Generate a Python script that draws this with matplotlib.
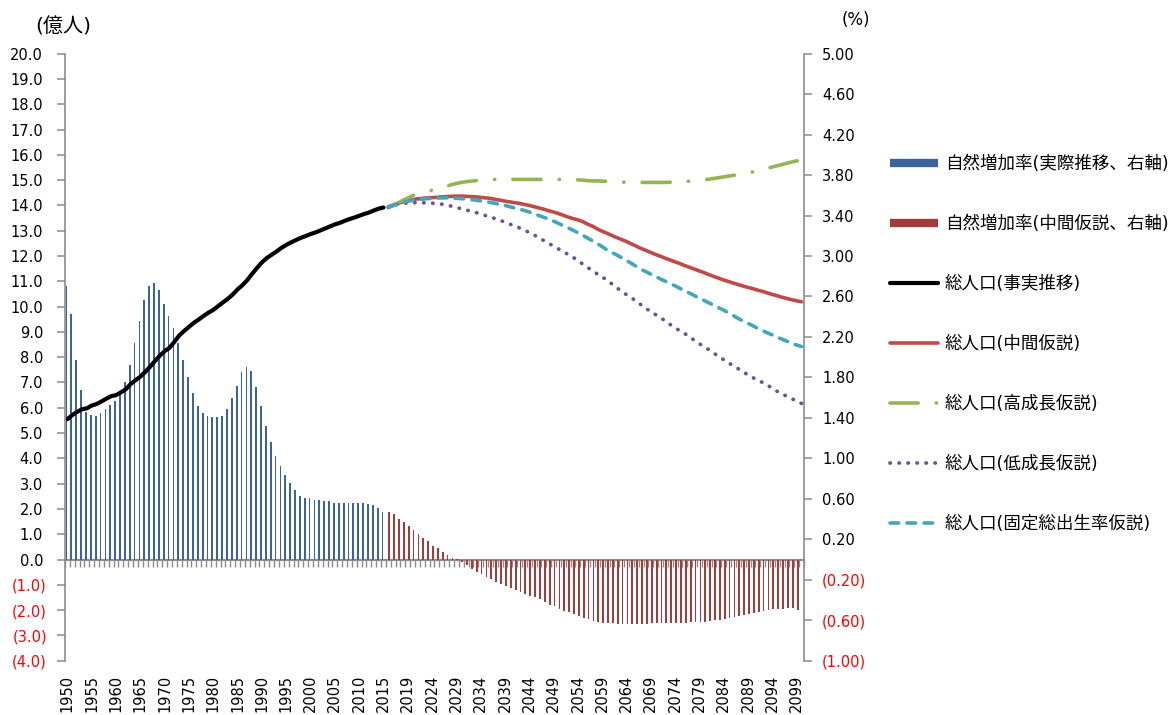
import numpy as np
import matplotlib
matplotlib.use("Agg")
import matplotlib.pyplot as plt
import matplotlib.transforms as mtransforms
from matplotlib.lines import Line2D

plt.rcParams["font.family"] = ["DejaVu Sans", "Noto Sans CJK JP"]

# ---- categories: observed years, then projection years (2015 appears in both)
years_actual = [str(y) for y in range(1950, 2016)]
years_projected = [str(y) for y in range(2015, 2101)]
categories = years_actual + years_projected

# ---- natural increase rate (%), right axis
rate_actual = [
    2.70, 2.43, 1.97, 1.68, 1.46, 1.43, 1.42, 1.45, 1.49, 1.53,
    1.57, 1.63, 1.75, 1.92, 2.14, 2.36, 2.57, 2.70, 2.73, 2.66,
    2.53, 2.41, 2.29, 2.14, 1.97, 1.80, 1.65, 1.52, 1.45, 1.42,
    1.41, 1.41, 1.42, 1.49, 1.60, 1.72, 1.85, 1.90, 1.86, 1.71,
    1.52, 1.32, 1.16, 1.02, 0.92, 0.84, 0.76, 0.69, 0.63, 0.61,
    0.61, 0.59, 0.59, 0.58, 0.58, 0.56, 0.56, 0.56, 0.56, 0.56,
    0.56, 0.56, 0.55, 0.54, 0.51, 0.47,
]
rate_medium = [
    0.471, 0.448, 0.405, 0.375, 0.336, 0.293, 0.254, 0.208, 0.181, 0.138,
    0.112, 0.072, 0.043, 0.016, 0.003, -0.026, -0.053, -0.092, -0.122, -0.145,
    -0.175, -0.194, -0.221, -0.240, -0.264, -0.283, -0.303, -0.316, -0.339, -0.356,
    -0.372, -0.392, -0.415, -0.445, -0.461, -0.487, -0.504, -0.520, -0.540, -0.560,
    -0.576, -0.586, -0.603, -0.616, -0.629, -0.629, -0.632, -0.642, -0.642, -0.642,
    -0.642, -0.642, -0.642, -0.642, -0.632, -0.632, -0.632, -0.632, -0.629, -0.629,
    -0.629, -0.626, -0.619, -0.619, -0.619, -0.613, -0.606, -0.599, -0.593, -0.586,
    -0.576, -0.567, -0.557, -0.547, -0.534, -0.524, -0.514, -0.504, -0.497, -0.491,
    -0.487, -0.487, -0.484, -0.481, -0.494,
]

# ---- total population (100 million), left axis
pop_actual = [
    5.55, 5.71, 5.84, 5.94, 5.98, 6.09, 6.15, 6.25, 6.36, 6.46,
    6.50, 6.61, 6.73, 6.94, 7.09, 7.23, 7.42, 7.62, 7.85, 8.06,
    8.24, 8.37, 8.61, 8.86, 9.04, 9.20, 9.36, 9.49, 9.63, 9.76,
    9.87, 10.02, 10.17, 10.31, 10.48, 10.68, 10.85, 11.05, 11.30, 11.53,
    11.75, 11.92, 12.05, 12.18, 12.32, 12.44, 12.54, 12.63, 12.72, 12.79,
    12.87, 12.93, 13.01, 13.09, 13.17, 13.25, 13.31, 13.39, 13.46, 13.52,
    13.59, 13.66, 13.72, 13.80, 13.87, 13.92,
]
pop_medium = [
    13.95, 14.02, 14.08, 14.14, 14.19, 14.23, 14.26, 14.28, 14.30, 14.31,
    14.32, 14.34, 14.35, 14.36, 14.37, 14.37, 14.36, 14.35, 14.34, 14.32,
    14.30, 14.28, 14.24, 14.21, 14.17, 14.14, 14.11, 14.08, 14.04, 14.00,
    13.95, 13.90, 13.85, 13.79, 13.74, 13.68, 13.61, 13.54, 13.48, 13.43,
    13.36, 13.26, 13.18, 13.07, 12.98, 12.90, 12.81, 12.73, 12.65, 12.57,
    12.48, 12.39, 12.30, 12.22, 12.14, 12.06, 11.99, 11.91, 11.84, 11.77,
    11.70, 11.62, 11.55, 11.48, 11.41, 11.34, 11.26, 11.19, 11.12, 11.05,
    10.99, 10.93, 10.87, 10.81, 10.76, 10.71, 10.65, 10.60, 10.54, 10.48,
    10.43, 10.37, 10.32, 10.27, 10.23, 10.19,
]
pop_high = [
    13.92, 14.01, 14.10, 14.20, 14.29, 14.39, 14.45, 14.51, 14.56, 14.60,
    14.65, 14.71, 14.76, 14.82, 14.87, 14.91, 14.94, 14.96, 14.98, 15.00,
    15.01, 15.02, 15.03, 15.03, 15.03, 15.03, 15.03, 15.03, 15.03, 15.03,
    15.03, 15.03, 15.03, 15.03, 15.03, 15.03, 15.03, 15.03, 15.02, 15.01,
    15.00, 14.98, 14.97, 14.97, 14.96, 14.95, 14.94, 14.93, 14.92, 14.92,
    14.91, 14.91, 14.91, 14.91, 14.91, 14.91, 14.91, 14.91, 14.92, 14.93,
    14.94, 14.95, 14.96, 14.97, 14.99, 15.01, 15.04, 15.07, 15.10, 15.13,
    15.16, 15.19, 15.22, 15.25, 15.29, 15.33, 15.38, 15.42, 15.47, 15.52,
    15.57, 15.62, 15.67, 15.72, 15.76, 15.80,
]
pop_low = [
    13.92, 14.00, 14.05, 14.08, 14.10, 14.11, 14.11, 14.11, 14.10, 14.09,
    14.07, 14.05, 14.02, 13.97, 13.92, 13.87, 13.82, 13.77, 13.72, 13.67,
    13.60, 13.54, 13.48, 13.41, 13.34, 13.26, 13.19, 13.11, 13.02, 12.93,
    12.83, 12.72, 12.61, 12.50, 12.39, 12.28, 12.17, 12.06, 11.95, 11.82,
    11.68, 11.55, 11.41, 11.29, 11.16, 11.06, 10.89, 10.74, 10.61, 10.47,
    10.35, 10.22, 10.07, 9.93, 9.80, 9.68, 9.56, 9.43, 9.29, 9.16,
    9.04, 8.93, 8.80, 8.66, 8.53, 8.41, 8.29, 8.15, 8.03, 7.90,
    7.77, 7.66, 7.54, 7.42, 7.30, 7.19, 7.09, 7.00, 6.89, 6.77,
    6.65, 6.55, 6.45, 6.36, 6.26, 6.17,
]
pop_fixed = [
    13.92, 13.99, 14.06, 14.12, 14.17, 14.20, 14.23, 14.25, 14.27, 14.28,
    14.29, 14.30, 14.30, 14.29, 14.28, 14.27, 14.25, 14.23, 14.21, 14.18,
    14.15, 14.12, 14.08, 14.04, 14.00, 13.95, 13.90, 13.85, 13.80, 13.74,
    13.67, 13.60, 13.53, 13.46, 13.38, 13.29, 13.20, 13.11, 13.02, 12.92,
    12.82, 12.71, 12.60, 12.49, 12.37, 12.24, 12.14, 12.04, 11.93, 11.82,
    11.71, 11.59, 11.47, 11.38, 11.28, 11.19, 11.09, 11.00, 10.91, 10.82,
    10.72, 10.62, 10.53, 10.43, 10.33, 10.24, 10.14, 10.05, 9.95, 9.86,
    9.75, 9.64, 9.53, 9.43, 9.34, 9.24, 9.14, 9.05, 8.96, 8.88,
    8.79, 8.71, 8.63, 8.55, 8.48, 8.42,
]

series_labels = [
    "自然増加率(実際推移、右軸)",
    "自然増加率(中間仮説、右軸)",
    "総人口(事実推移)",
    "総人口(中間仮説)",
    "総人口(高成長仮説)",
    "総人口(低成長仮説)",
    "総人口(固定総出生率仮説)",
]

left_ticks = list(range(-4, 21))
right_ticks = [-1.0, -0.6, -0.2, 0.2, 0.6, 1.0, 1.4, 1.8, 2.2, 2.6, 3.0, 3.4, 3.8, 4.2, 4.6, 5.0]


def paren_fmt(v, nd):
    return f"({abs(v):.{nd}f})" if v < 0 else f"{v:.{nd}f}"


C_BAR_BLUE = "#3B63A0"
C_BAR_RED = "#A23B39"
C_RED = "#BE4B48"
C_GREEN = "#93B653"
C_PURPLE = "#6E5296"
C_TEAL = "#42A5C2"
C_AXIS = "#8C8C8C"
C_NEG = "#FF0000"
TICK_FS = 10.5

W, H = 1173, 715
fig = plt.figure(figsize=(W / 100, H / 100), dpi=100)
ax = fig.add_axes([65 / W, 54.3 / H, 739 / W, 607 / H])   # rates (right scale)
ax2 = ax.twinx()                                        # population (left scale)

n_cat = len(categories)
x_act = np.arange(len(years_actual))
x_proj = np.arange(len(years_actual), n_cat)

ax.set_xlim(-0.5, n_cat - 0.5)
ax.set_ylim(-1.0, 5.0)
ax2.set_ylim(-4.0, 20.0)

# clustered columns: observed on the left half, projected on the right half
ax.bar(x_act - 0.19, rate_actual, width=0.36, color=C_BAR_BLUE, linewidth=0)
ax.bar(x_proj[:len(rate_medium)] + 0.19, rate_medium, width=0.36, color=C_BAR_RED, linewidth=0)

l_act, = ax2.plot(x_act, pop_actual, color="black", lw=3.0,
                  solid_capstyle="round", solid_joinstyle="round")
l_med, = ax2.plot(x_proj, pop_medium, color=C_RED, lw=2.6,
                  solid_capstyle="round", solid_joinstyle="round")
l_high, = ax2.plot(x_proj, pop_high, color=C_GREEN, lw=2.6,
                   dashes=(7.8, 5.0, 0.1, 5.0), dash_capstyle="round")
l_low, = ax2.plot(x_proj, pop_low, color=C_PURPLE, lw=2.7,
                  dashes=(0.1, 2.3), dash_capstyle="round")
l_fix, = ax2.plot(x_proj, pop_fixed, color=C_TEAL, lw=2.6,
                  dashes=(2.4, 2.3), dash_capstyle="round")

# spines
for s in ("top", "bottom", "left"):
    ax.spines[s].set_visible(False)
for s in ("top", "bottom", "right"):
    ax2.spines[s].set_visible(False)
ax.spines["right"].set_color(C_AXIS)
ax.spines["right"].set_linewidth(1.2)
ax2.spines["left"].set_color(C_AXIS)
ax2.spines["left"].set_linewidth(1.2)

# right axis (%)
ax.yaxis.tick_right()
ax.set_yticks(right_ticks, [paren_fmt(v, 2) for v in right_ticks])
ax.tick_params(axis="y", direction="out", length=6, width=1.1, color=C_AXIS,
               pad=7.0, labelsize=TICK_FS)
for lab in ax.get_yticklabels():
    if lab.get_text().startswith("("):
        lab.set_color(C_NEG)

# left axis (億人)
ax2.yaxis.tick_left()
ax2.set_yticks(left_ticks, [paren_fmt(v, 1) for v in left_ticks])
ax2.tick_params(axis="y", direction="out", length=6, width=1.1, color=C_AXIS,
                pad=7.0, labelsize=TICK_FS)
shift = mtransforms.ScaledTranslation(-3.8 / 100, 0, fig.dpi_scale_trans)
for lab in ax2.get_yticklabels():
    if lab.get_text().startswith("("):
        lab.set_color(C_NEG)
    else:
        lab.set_transform(lab.get_transform() + shift)

# category labels along the bottom
xt = list(range(0, n_cat, 5))
ax.set_xticks(xt, [categories[i] for i in xt], rotation=90)
ax.tick_params(axis="x", length=0, pad=10, labelsize=TICK_FS)

# category axis crossing at zero, with a tick between every category
zero_axis = ax.secondary_xaxis(1 / 6)
zero_axis.set_xticks(np.arange(-0.5, n_cat, 1.0))
zero_axis.tick_params(axis="x", direction="out", length=5, width=1.0,
                      color=C_AXIS, labelbottom=False)
zero_axis.spines["bottom"].set_color(C_AXIS)
zero_axis.spines["bottom"].set_linewidth(1.5)

# unit labels
fig.text(63 / W, 1 - 27 / H, "(億人)", ha="center", va="center", fontsize=14.5)
fig.text(856 / W, 1 - 20 / H, "(%)", ha="center", va="center", fontsize=12)

# legend
handles = [
    Line2D([], [], color=C_BAR_BLUE, lw=6, solid_capstyle="butt"),
    Line2D([], [], color=C_BAR_RED, lw=6, solid_capstyle="butt"),
    l_act, l_med, l_high, l_low, l_fix,
]
LEG_FS = 12.6
LEG_PX = LEG_FS * 100 / 72
fig.legend(handles, series_labels, loc="upper left",
           bbox_to_anchor=(890 / W, 1 - 155 / H), frameon=False,
           fontsize=LEG_FS, handlelength=48 / LEG_PX, handletextpad=7 / LEG_PX,
           borderpad=0, borderaxespad=0, labelspacing=2.40)

fig.savefig("out.png", dpi=100)
